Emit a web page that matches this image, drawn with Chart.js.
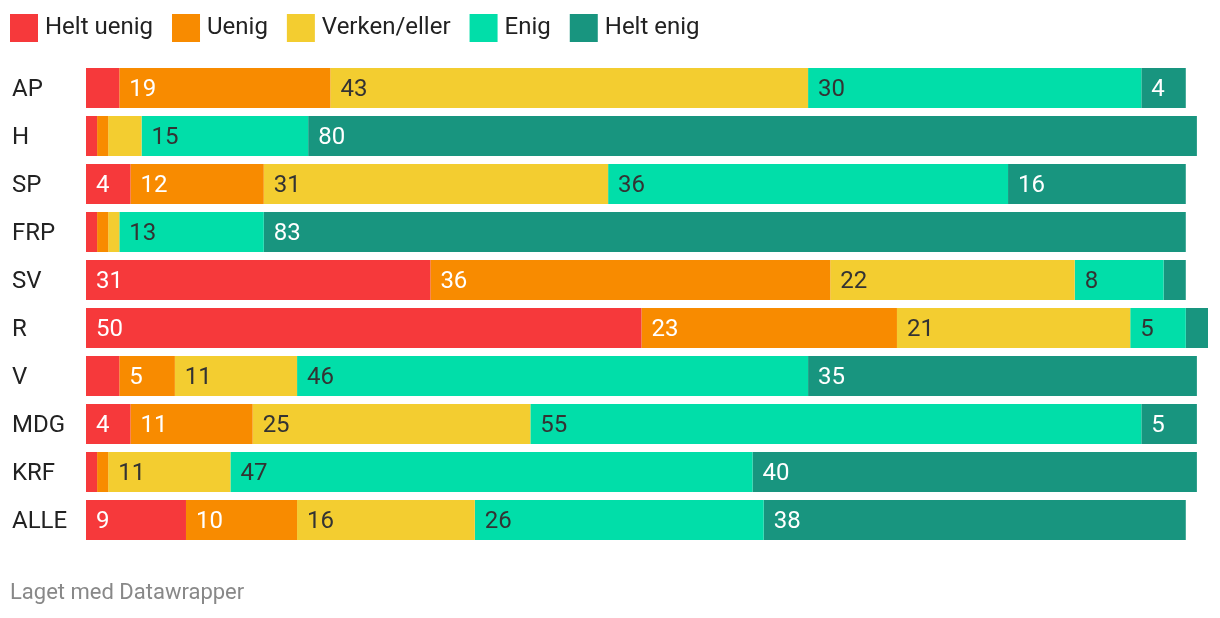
<!DOCTYPE html>
<html>
<head>
<meta charset="utf-8">
<script src="https://cdn.jsdelivr.net/npm/chart.js@4"></script>
<style>
  html, body { margin: 0; padding: 0; background: #fff; }
  canvas { display: block; }
</style>
</head>
<body>
<canvas id="chart" width="1220" height="618"></canvas>
<script>
// partier (rader)
const parties = ['AP', 'H', 'SP', 'FRP', 'SV', 'R', 'V', 'MDG', 'KRF', 'ALLE'];

// svar i prosent, lest av bildet
const heltUenig = [3, 1, 4, 1, 31, 50, 3, 4, 1, 9];
const uenig     = [19, 1, 12, 1, 36, 23, 5, 11, 1, 10];
const verken    = [43, 3, 31, 1, 22, 21, 11, 25, 11, 16];
const enig      = [30, 15, 36, 13, 8, 5, 46, 55, 47, 26];
const heltEnig  = [4, 80, 16, 83, 2, 2, 35, 5, 40, 38];

const seriesNames = ['Helt uenig', 'Uenig', 'Verken/eller', 'Enig', 'Helt enig'];
const seriesData = [heltUenig, uenig, verken, enig, heltEnig];
const colors = ['#f6393b', '#f88b00', '#f3cd30', '#01dea9', '#18957f'];
const labelColors = ['#ffffff', '#ffffff', '#333333', '#333333', '#ffffff'];

const FONT = 'Roboto, "Noto Sans", sans-serif';

// Verdier inne i stolpene
const valueLabels = {
    id: 'valueLabels',
    afterDatasetsDraw(chart) {
        const ctx = chart.ctx;
        ctx.save();
        ctx.font = '24px ' + FONT;
        ctx.textAlign = 'left';
        ctx.textBaseline = 'middle';
        chart.data.datasets.forEach((ds, i) => {
            const meta = chart.getDatasetMeta(i);
            meta.data.forEach((bar, j) => {
                const v = ds.data[j];
                if (v < 4) return; // for smalt for tekst
                ctx.fillStyle = labelColors[i];
                ctx.fillText(String(v), bar.base + 10, bar.y + 2);
            });
        });
        ctx.restore();
    }
};

// Egen forklaring øverst + kilde nederst
const legendAndFooter = {
    id: 'legendAndFooter',
    afterDraw(chart) {
        const ctx = chart.ctx;
        ctx.save();
        ctx.font = '24px ' + FONT;
        ctx.textBaseline = 'middle';
        ctx.textAlign = 'left';
        let x = 10;
        chart.data.datasets.forEach((ds) => {
            ctx.fillStyle = ds.backgroundColor;
            ctx.fillRect(x, 14, 28, 28);
            ctx.fillStyle = '#222222';
            ctx.fillText(ds.label, x + 35, 28);
            x += 35 + ctx.measureText(ds.label).width + 19;
        });

        ctx.font = '22px ' + FONT;
        ctx.fillStyle = '#888888';
        ctx.fillText('Laget med Datawrapper', 10, 593);
        ctx.restore();
    }
};

new Chart(document.getElementById('chart'), {
    type: 'bar',
    data: {
        labels: parties,
        datasets: seriesNames.map((name, i) => ({
            label: name,
            data: seriesData[i],
            backgroundColor: colors[i],
            borderWidth: 0,
            barPercentage: 40 / 48,
            categoryPercentage: 1
        }))
    },
    options: {
        indexAxis: 'y',
        responsive: false,
        devicePixelRatio: 1,
        animation: false,
        layout: { padding: { top: 64, bottom: 74, left: 12, right: 12 } },
        plugins: {
            legend: { display: false },
            tooltip: { enabled: false }
        },
        scales: {
            x: {
                stacked: true,
                display: false,
                min: 0,
                max: 101
            },
            y: {
                stacked: true,
                grid: { display: false },
                border: { display: false },
                ticks: {
                    crossAlign: 'far',
                    color: '#222222',
                    font: { family: FONT, size: 24 },
                    padding: 0,
                    labelOffset: 2
                },
                afterFit: (scale) => { scale.width = 74; }
            }
        }
    },
    plugins: [valueLabels, legendAndFooter]
});
</script>
</body>
</html>
